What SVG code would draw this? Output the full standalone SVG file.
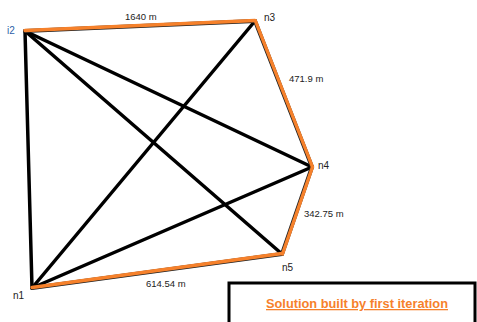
<svg xmlns="http://www.w3.org/2000/svg" width="477" height="322" viewBox="0 0 477 322">
<style>
.blk{stroke:#000;stroke-width:3.5;fill:none;stroke-linecap:round}
.org{stroke:#222;stroke-width:4;fill:none;stroke-linecap:round}
.org2{stroke:#f6812b;stroke-width:3.4;fill:none;stroke-linecap:round}
.lbl{font-family:"Liberation Sans",Arial,sans-serif;font-size:9.5px;fill:#222}
.nl{font-family:"Liberation Sans",Arial,sans-serif;font-size:10px;fill:#222}
</style>
<rect width="477" height="322" fill="#fff"/>
<g id="connectors">
<line class="blk" x1="25" y1="31" x2="32" y2="288"/>
<line class="blk" x1="25" y1="31" x2="312" y2="167"/>
<line class="blk" x1="25" y1="31" x2="282" y2="254"/>
<line class="blk" x1="255" y1="21" x2="32" y2="288"/>
<line class="blk" x1="312" y1="167" x2="32" y2="288"/>
<line class="org" x1="25" y1="31" x2="255" y2="21"/>
<line class="org" x1="255" y1="21" x2="312" y2="167"/>
<line class="org" x1="312" y1="167" x2="282" y2="254"/>
<line class="org" x1="282" y1="254" x2="32" y2="288"/>
<line class="org2" x1="25" y1="30.5" x2="255" y2="20.5"/>
<line class="org2" x1="255.5" y1="21" x2="312.5" y2="167"/>
<line class="org2" x1="312.5" y1="167" x2="282.5" y2="254"/>
<line class="org2" x1="282" y1="253.5" x2="32" y2="287.5"/>
<text class="lbl" x="125" y="20">1640 m</text>
<text class="lbl" x="289" y="82">471.9 m</text>
<text class="lbl" x="304" y="217">342.75 m</text>
<text class="lbl" x="146" y="287">614.54 m</text>
</g>
<g id="n1"><text class="nl" x="13" y="299">n1</text></g>
<g id="n2"><text class="nl" x="7" y="34" style="fill:#2e5fa8">i2</text></g>
<g id="n3"><text class="nl" x="264" y="21">n3</text></g>
<g id="n4"><text class="nl" x="318" y="169">n4</text></g>
<g id="n5"><text class="nl" x="282" y="271">n5</text></g>
<g id="legend">
<rect x="229" y="283" width="246" height="45" fill="#fff" stroke="#000" stroke-width="3"/>
<text x="357" y="308" text-anchor="middle" font-family="Liberation Sans, Arial, sans-serif" font-size="12.8" font-weight="bold" fill="#f6812b" text-decoration="underline">Solution built by first iteration</text>
</g>
</svg>
